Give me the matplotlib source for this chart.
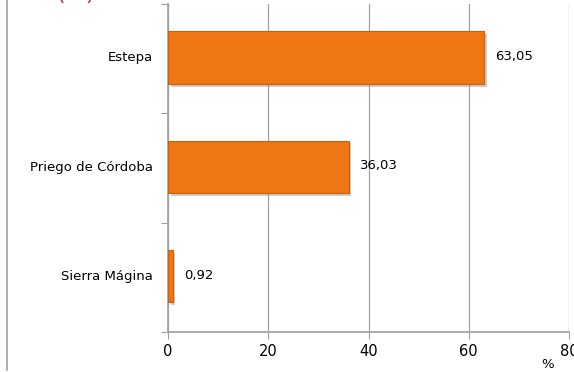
import matplotlib
matplotlib.use("Agg")
import matplotlib.pyplot as plt
import matplotlib.patheffects as pe
from matplotlib.lines import Line2D

categories = ["Estepa", "Priego de Córdoba", "Sierra Mágina"]
values = [63.05, 36.03, 0.92]
value_labels = ["63,05", "36,03", "0,92"]
xticks = [0, 20, 40, 60, 80]

W, H = 574, 372
fig = plt.figure(figsize=(W / 100, H / 100), dpi=100)
ax = fig.add_axes([168 / W, 1 - 332 / H, (569 - 168) / W, (332 - 4) / H])

ypos = list(range(len(categories)))
bars = ax.barh([y - 0.01 for y in ypos], values, height=0.48, color="#EF7613", edgecolor="#C9600C",
               linewidth=0.8, zorder=3,
               path_effects=[pe.SimplePatchShadow(offset=(2, -2), shadow_rgbFace="#999999", alpha=0.5),
                             pe.Normal()])
ax.set_ylim(len(categories) - 0.5, -0.5)
ax.set_xlim(0, 80)
ax.set_xticks(xticks)
ax.set_xticklabels([str(t) for t in xticks], fontsize=10.5)
ax.set_yticks([-0.5, 0.5, 1.5, 2.5], minor=False)
ax.set_yticklabels([])
ax.set_yticks([y - 0.02 for y in ypos], minor=True)
ax.set_yticklabels(categories, minor=True, fontsize=9.5)
ax.tick_params(axis="y", which="minor", length=0, pad=11)
ax.tick_params(axis="y", which="major", length=5, color="#A0A0A0")
ax.tick_params(axis="x", length=5, color="#A0A0A0", pad=4)
ax.grid(axis="x", color="#A0A0A0", linewidth=0.9, zorder=0)
for s in ["top", "right"]:
    ax.spines[s].set_visible(False)
for s in ["left", "bottom"]:
    ax.spines[s].set_color("#A0A0A0")
    ax.spines[s].set_linewidth(1.2)

for i, (v, lab) in enumerate(zip(values, value_labels)):
    ax.text(v + 2.3, i - 0.02, lab, va="center", ha="left", fontsize=9.5, zorder=4)

fig.text(548 / W, 1 - 365 / H, "%", fontsize=9.5, ha="center", va="center")
fig.text(75 / W, 1.0, "(%)", fontsize=16, color="#B03A3A", ha="center", va="baseline")
fig.add_artist(Line2D([6.5 / W, 6.5 / W], [0.005, 1], transform=fig.transFigure,
                      color="#A0A0A0", linewidth=1.2))

fig.savefig("out.png", dpi=100)
